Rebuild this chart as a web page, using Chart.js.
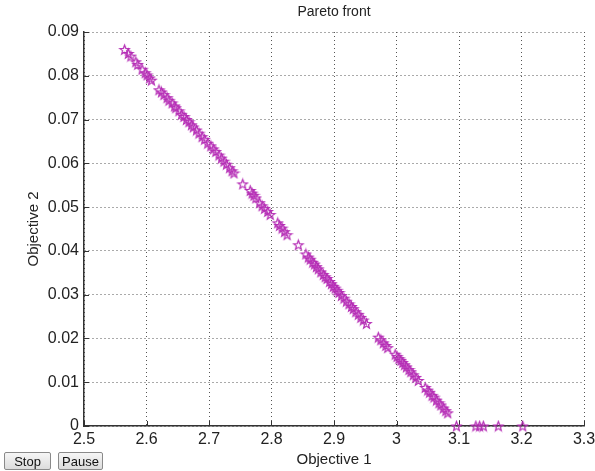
<!DOCTYPE html>
<html>
<head>
<meta charset="utf-8">
<script src="https://cdn.jsdelivr.net/npm/chart.js@4"></script>
<style>
html, body { margin: 0; padding: 0; background: #fff; }
#wrap { position: relative; width: 595px; height: 471px; }
.btn {
	position: absolute; top: 452px; height: 18px; padding: 0;
	font: 13px Arial, "Liberation Sans", sans-serif; color: #111;
	background: linear-gradient(#f6f6f6, #dcdcdc);
	border: 1px solid #8a8a8a; border-radius: 2px;
}
</style>
</head>
<body>
<div id="wrap">
	<canvas id="myChart" width="595" height="471"></canvas>
	<button class="btn" style="left:4px;width:47px;">Stop</button>
	<button class="btn" style="left:58px;width:45px;">Pause</button>
</div>
<script>

// values
var objective1 = [
	2.565, 2.571, 2.575, 2.583, 2.586, 2.593, 2.598, 2.601, 2.605, 2.608,
	2.620, 2.624, 2.628, 2.633, 2.636, 2.641, 2.645, 2.647, 2.652, 2.656,
	2.660, 2.664, 2.668, 2.672, 2.675, 2.680, 2.684, 2.689, 2.693, 2.698,
	2.703, 2.707, 2.711, 2.716, 2.720, 2.724, 2.728, 2.733, 2.737, 2.740,
	2.754, 2.766, 2.769, 2.772, 2.775, 2.781, 2.785, 2.789, 2.794, 2.798,
	2.810, 2.813, 2.817, 2.821, 2.825, 2.843,
	2.855, 2.859, 2.862, 2.866, 2.869, 2.872, 2.875, 2.879, 2.883, 2.886,
	2.889, 2.893, 2.896, 2.899, 2.902, 2.905, 2.908, 2.912, 2.916, 2.920,
	2.924, 2.928, 2.931, 2.935, 2.939, 2.943, 2.947, 2.952,
	2.971, 2.975, 2.979, 2.983, 2.986,
	2.998, 3.001, 3.004, 3.007, 3.010, 3.013, 3.016, 3.020, 3.023, 3.027, 3.031, 3.035,
	3.046, 3.050, 3.053, 3.057, 3.060, 3.064, 3.068, 3.071, 3.075, 3.079, 3.082,
	3.096, 3.127, 3.133, 3.139, 3.163, 3.202
];
var objective2 = [
	0.0860, 0.0851, 0.0845, 0.0832, 0.0826, 0.0815, 0.0807, 0.0802, 0.0795, 0.0790,
	0.0768, 0.0763, 0.0757, 0.0750, 0.0744, 0.0738, 0.0731, 0.0727, 0.0720, 0.0712,
	0.0707, 0.0700, 0.0695, 0.0688, 0.0683, 0.0676, 0.0669, 0.0661, 0.0655, 0.0646,
	0.0640, 0.0633, 0.0627, 0.0619, 0.0612, 0.0605, 0.0598, 0.0590, 0.0583, 0.0578,
	0.0553, 0.0538, 0.0532, 0.0527, 0.0521, 0.0510, 0.0503, 0.0497, 0.0490, 0.0483,
	0.0464, 0.0458, 0.0452, 0.0444, 0.0437, 0.0414,
	0.0393, 0.0386, 0.0381, 0.0374, 0.0370, 0.0364, 0.0359, 0.0352, 0.0346, 0.0341,
	0.0337, 0.0330, 0.0325, 0.0319, 0.0315, 0.0310, 0.0305, 0.0298, 0.0292, 0.0285,
	0.0279, 0.0273, 0.0268, 0.0261, 0.0255, 0.0248, 0.0242, 0.0234,
	0.0203, 0.0197, 0.0190, 0.0184, 0.0179,
	0.0164, 0.0159, 0.0154, 0.0150, 0.0145, 0.0140, 0.0135, 0.0129, 0.0124, 0.0117, 0.0111, 0.0104,
	0.0088, 0.0082, 0.0077, 0.0070, 0.0066, 0.0059, 0.0053, 0.0048, 0.0041, 0.0035, 0.0030,
	0, 0, 0, 0, 0, 0
];

var xTickValues = [2.5, 2.6, 2.7, 2.8, 2.9, 3.0, 3.1, 3.2, 3.3];
var xTickLabels = ["2.5", "2.6", "2.7", "2.8", "2.9", "3", "3.1", "3.2", "3.3"];
var yTickValues = [0, 0.01, 0.02, 0.03, 0.04, 0.05, 0.06, 0.07, 0.08, 0.09];
var yTickLabels = ["0", "0.01", "0.02", "0.03", "0.04", "0.05", "0.06", "0.07", "0.08", "0.09"];


// matlab style pentagram marker
function makeStar(r, color) {
	var s = Math.ceil(r * 2 + 3);
	var c = document.createElement('canvas');
	c.width = s; c.height = s;
	var g = c.getContext('2d');
	g.strokeStyle = color;
	g.lineWidth = 1.2;
	g.beginPath();
	for (var i = 0; i < 10; i++) {
		var a = -Math.PI / 2 + i * Math.PI / 5;
		var rr = (i % 2) ? r * 0.42 : r;
		g.lineTo(s / 2 + rr * Math.cos(a), s / 2 + 0.5 + rr * Math.sin(a));
	}
	g.closePath();
	g.stroke();
	return c;
}

// short ticks pointing into the plot
var inwardTicks = {
	id: 'inwardTicks',
	beforeDatasetsDraw: function(chart) {
		var ctx = chart.ctx, area = chart.chartArea;
		var x = chart.scales.x, y = chart.scales.y;
		ctx.save();
		ctx.strokeStyle = '#333';
		ctx.lineWidth = 1;
		ctx.beginPath();
		x.ticks.forEach(function(t) {
			var px = Math.round(x.getPixelForValue(t.value)) + 0.5;
			ctx.moveTo(px, area.bottom);
			ctx.lineTo(px, area.bottom - 5);
		});
		y.ticks.forEach(function(t) {
			var py = Math.round(y.getPixelForValue(t.value)) + 0.5;
			ctx.moveTo(area.left, py);
			ctx.lineTo(area.left + 5, py);
		});
		ctx.stroke();
		ctx.restore();
	}
};

var points = objective1.map(function(v, i) { return { x: v, y: objective2[i] }; });

Chart.defaults.font.family = 'Arial, "Liberation Sans", sans-serif';
Chart.defaults.color = '#222';

new Chart("myChart", {
	type: "scatter",
	data: {
		datasets: [{
			data: points,
			pointStyle: makeStar(5, '#b52db5'),
			clip: false
		}]
	},
	options: {
		responsive: false,
		animation: false,
		layout: { padding: { left: 0, right: 11, top: 0, bottom: 0 } },
		plugins: {
			legend: { display: false },
			tooltip: { enabled: false },
			title: {
				display: true,
				text: 'Pareto front',
				fullSize: false,
				font: { size: 14, weight: 'normal' },
				padding: { top: 4, bottom: 11.2 }
			}
		},
		scales: {
			x: {
				type: 'linear',
				min: 2.5, max: 3.3,
				afterBuildTicks: function(scale) {
					scale.ticks = xTickValues.map(function(v) { return { value: v }; });
				},
				afterFit: function(scale) {
					scale.height = 45;
					scale.paddingLeft = 0;
					scale.paddingRight = 0;
				},
				ticks: {
					font: { size: 16 },
					padding: 4,
					maxRotation: 0,
					callback: function(v, i) { return xTickLabels[i]; }
				},
				grid: { color: '#555', lineWidth: 1, drawTicks: false },
				border: { display: true, color: '#333', width: 1.5, dash: [1, 3] },
				title: { display: true, text: 'Objective 1', font: { size: 15 }, padding: { top: 2, bottom: 2 } }
			},
			y: {
				type: 'linear',
				min: 0, max: 0.09,
				afterBuildTicks: function(scale) {
					scale.ticks = yTickValues.map(function(v) { return { value: v }; });
				},
				afterFit: function(scale) { scale.width = 84; },
				ticks: {
					font: { size: 16 },
					padding: 5,
					callback: function(v, i) { return yTickLabels[i]; }
				},
				grid: { color: '#555', lineWidth: 1, drawTicks: false },
				border: { display: true, color: '#333', width: 1.5, dash: [1, 3] },
				title: { display: true, text: 'Objective 2', font: { size: 15 }, padding: { top: 25, bottom: 25 } }
			}
		}
	},
	plugins: [inwardTicks]
});

</script>
</body>
</html>
